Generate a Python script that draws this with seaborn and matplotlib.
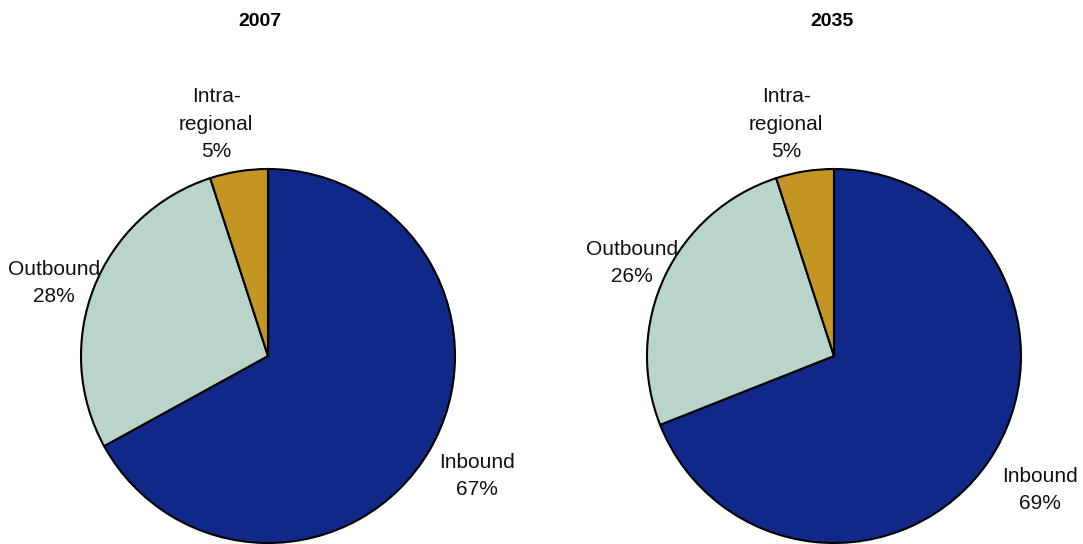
import matplotlib
matplotlib.use("Agg")
import matplotlib.pyplot as plt
import seaborn as sns

sns.set_theme(style="white")
plt.rcParams["font.family"] = ["Liberation Sans Narrow", "Liberation Sans", "DejaVu Sans"]

categories = ["Inbound", "Outbound", "Intra-\nregional"]
share_2007 = [67, 28, 5]
share_2035 = [69, 26, 5]
colors = ["#102888", "#B9D5CA", "#C39522"]

W, H = 1083, 544
fig = plt.figure(figsize=(W / 100, H / 100), dpi=100)
ax = fig.add_axes([0, 0, 1, 1])
ax.set_xlim(0, W)
ax.set_ylim(0, H)
ax.set_aspect("equal")
ax.axis("off")

# pie centres / label spots in pixel coordinates (y measured from top)
panels = [
    ("2007", share_2007, 268, 260, [(477, 476), (54, 283), (216, 124)]),
    ("2035", share_2035, 834, 832, [(1040, 490), (632, 263), (786, 124)]),
]

for title, vals, cx, tx0, spots in panels:
    ax.pie(vals, colors=colors, startangle=90, counterclock=False,
           center=(cx, H - 356), radius=187,
           wedgeprops=dict(edgecolor="black", linewidth=1.5))
    ax.text(tx0, H - 21, title, ha="center", va="center",
            fontsize=14, fontweight="bold", color="black",
            family=["Liberation Sans", "DejaVu Sans"])
    for cat, v, (tx, ty) in zip(categories, vals, spots):
        ax.text(tx, H - ty, f"{cat}\n{v}%", ha="center", va="center",
                fontsize=15, linespacing=1.55, color="#111111")

ax.set_xlim(0, W)
ax.set_ylim(0, H)
fig.savefig("out.png", dpi=100)
